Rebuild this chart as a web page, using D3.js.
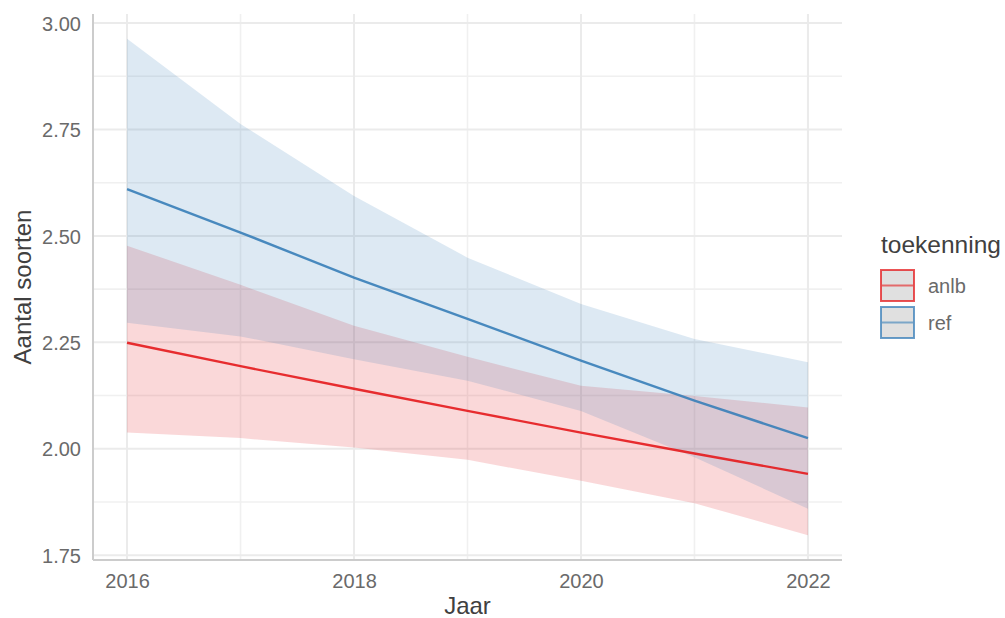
<!DOCTYPE html>
<html>
<head>
<meta charset="utf-8">
<script src="https://cdn.jsdelivr.net/npm/d3@7"></script>
<style>
  html, body { margin: 0; padding: 0; background: #ffffff; }
  svg { display: block; font-family: "Liberation Sans", Arial, sans-serif; }
</style>
</head>
<body>
<svg id="chart" width="1005" height="618"></svg>
<script>
// Modelled species count per year, with confidence band, for two groups
const years = [2016, 2017, 2018, 2019, 2020, 2021, 2022];

const anlbFit   = [2.249, 2.194, 2.141, 2.089, 2.038, 1.989, 1.941];
const anlbLower = [2.038, 2.025, 2.003, 1.974, 1.925, 1.872, 1.797];
const anlbUpper = [2.477, 2.385, 2.289, 2.216, 2.148, 2.124, 2.097];

const refFit   = [2.610, 2.508, 2.402, 2.305, 2.207, 2.113, 2.025];
const refLower = [2.296, 2.264, 2.210, 2.160, 2.089, 1.980, 1.859];
const refUpper = [2.963, 2.763, 2.594, 2.449, 2.340, 2.258, 2.203];

const groups = ["anlb", "ref"];
const groupColors = ["#E41A1C", "#377EB8"];

const yTicks = [1.75, 2.00, 2.25, 2.50, 2.75, 3.00];
const yMinor = [1.875, 2.125, 2.375, 2.625, 2.875];
const xTicks = [2016, 2018, 2020, 2022];
const xMinor = [2017, 2019, 2021];

const legendTitle = "toekenning";
const xTitle = "Jaar";
const yTitle = "Aantal soorten";

// ---- series table built from the arrays above ----
const series = [
  { name: groups[0], color: groupColors[0], fit: anlbFit, lo: anlbLower, hi: anlbUpper },
  { name: groups[1], color: groupColors[1], fit: refFit,  lo: refLower,  hi: refUpper }
].map(s => ({
  ...s,
  rows: years.map((yr, i) => ({ x: yr, fit: s.fit[i], lo: s.lo[i], hi: s.hi[i] }))
}));

// ---- layout ----
const panel = { left: 93, right: 842, top: 14, bottom: 560 };
const svg = d3.select("#chart");

// ggplot-style 5% expansion of the data range
function expand(ext, f = 0.05) {
  const d = (ext[1] - ext[0]) * f;
  return [ext[0] - d, ext[1] + d];
}
const allVals = series.flatMap(s => [...s.lo, ...s.hi, ...s.fit]);

const x = d3.scaleLinear()
  .domain(expand(d3.extent(years)))
  .range([panel.left, panel.right]);
const y = d3.scaleLinear()
  .domain(expand(d3.extent(allVals)))
  .range([panel.bottom, panel.top]);

// ---- grid ----
const grid = svg.append("g").attr("class", "grid");
grid.selectAll("line.ymin").data(yMinor).join("line")
  .attr("x1", panel.left).attr("x2", panel.right)
  .attr("y1", d => y(d)).attr("y2", d => y(d))
  .attr("stroke", "#f0f0f0").attr("stroke-width", 1.6);
grid.selectAll("line.xmin").data(xMinor).join("line")
  .attr("y1", panel.top).attr("y2", panel.bottom)
  .attr("x1", d => x(d)).attr("x2", d => x(d))
  .attr("stroke", "#f0f0f0").attr("stroke-width", 1.6);
grid.selectAll("line.ymaj").data(yTicks).join("line")
  .attr("x1", panel.left).attr("x2", panel.right)
  .attr("y1", d => y(d)).attr("y2", d => y(d))
  .attr("stroke", "#ebebeb").attr("stroke-width", 2);
grid.selectAll("line.xmaj").data(xTicks).join("line")
  .attr("y1", panel.top).attr("y2", panel.bottom)
  .attr("x1", d => x(d)).attr("x2", d => x(d))
  .attr("stroke", "#ebebeb").attr("stroke-width", 2);

// ---- confidence ribbons ----
const area = d3.area()
  .x(d => x(d.x))
  .y0(d => y(d.lo))
  .y1(d => y(d.hi));
svg.append("g").selectAll("path").data(series).join("path")
  .attr("d", s => area(s.rows))
  .attr("fill", s => s.color)
  .attr("fill-opacity", 0.17);

// ---- fitted lines ----
const line = d3.line().x(d => x(d.x)).y(d => y(d.fit));
svg.append("g").selectAll("path").data(series).join("path")
  .attr("d", s => line(s.rows))
  .attr("fill", "none")
  .attr("stroke", s => s.color)
  .attr("stroke-opacity", 0.9)
  .attr("stroke-width", 2.4);

// ---- axes ----
const yAxis = d3.axisLeft(y).tickValues(yTicks).tickFormat(d3.format(".2f")).tickSize(0).tickPadding(12);
const xAxis = d3.axisBottom(x).tickValues(xTicks).tickFormat(d3.format("d")).tickSize(0).tickPadding(14);

const gy = svg.append("g").attr("transform", `translate(${panel.left},0)`).call(yAxis);
const gx = svg.append("g").attr("transform", `translate(0,${panel.bottom})`).call(xAxis);
[gy, gx].forEach(g => {
  g.select(".domain").remove();
  g.selectAll("text")
    .attr("fill", "#6a6a6a")
    .attr("font-size", 20)
    .attr("font-family", "Liberation Sans, Arial, sans-serif");
});
gy.selectAll("text").attr("dy", "0.36em");

// axis lines (left and bottom)
svg.append("line")
  .attr("x1", panel.left).attr("x2", panel.left)
  .attr("y1", panel.top).attr("y2", panel.bottom)
  .attr("stroke", "#cccccc").attr("stroke-width", 2);
svg.append("line")
  .attr("x1", panel.left).attr("x2", panel.right)
  .attr("y1", panel.bottom).attr("y2", panel.bottom)
  .attr("stroke", "#cccccc").attr("stroke-width", 2);

// ---- axis titles ----
svg.append("text")
  .attr("x", (panel.left + panel.right) / 2).attr("y", 614)
  .attr("text-anchor", "middle")
  .attr("font-size", 24).attr("fill", "#404040")
  .text(xTitle);
svg.append("text")
  .attr("transform", `translate(31,${(panel.top + panel.bottom) / 2}) rotate(-90)`)
  .attr("text-anchor", "middle")
  .attr("font-size", 24).attr("fill", "#404040")
  .text(yTitle);

// ---- legend ----
const legend = svg.append("g").attr("transform", "translate(880,0)");
legend.append("text")
  .attr("x", 1).attr("y", 253)
  .attr("font-size", 24.5).attr("fill", "#404040")
  .text(legendTitle);

const keyW = 35, keyH = 33, keyTop = 269, keyGap = 37;
const keys = legend.selectAll("g.key").data(series).join("g")
  .attr("class", "key")
  .attr("transform", (d, i) => `translate(0,${keyTop + i * keyGap})`);
keys.append("rect")
  .attr("x", 1).attr("y", 1)
  .attr("width", keyW - 2).attr("height", keyH - 2)
  .attr("fill", "#e0e0e0")
  .attr("stroke", d => d.color)
  .attr("stroke-opacity", 0.75)
  .attr("stroke-width", 2);
keys.append("line")
  .attr("x1", 2).attr("x2", keyW - 2)
  .attr("y1", keyH / 2).attr("y2", keyH / 2)
  .attr("stroke", d => d.color)
  .attr("stroke-opacity", 0.6)
  .attr("stroke-width", 2);
keys.append("text")
  .attr("x", keyW + 13).attr("y", keyH / 2)
  .attr("dy", "0.36em")
  .attr("font-size", 20).attr("fill", "#6a6a6a")
  .text(d => d.name);
</script>
</body>
</html>
